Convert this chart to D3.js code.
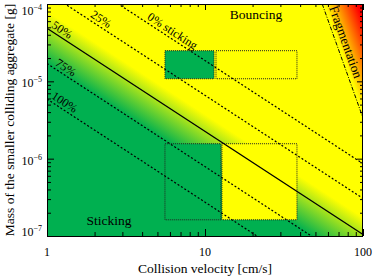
<!DOCTYPE html>
<html>
<head>
<meta charset="utf-8">
<script src="https://cdn.jsdelivr.net/npm/d3@7"></script>
<style>
  body { margin: 0; background: #fff; }
  text { font-family: "Liberation Serif", "Times New Roman", serif; fill: #000; }
</style>
</head>
<body>
<svg></svg>
<script>
var width = 374, height = 279;
var margin = {left: 47, right: 11, top: 4, bottom: 43};

// axes
var velocityDomain = [1, 100];
var massDomain = [1e-7, 1e-4];
var xMajor = [1, 10, 100];
var yMajor = [1e-7, 1e-6, 1e-5, 1e-4];
var yExponents = ["\u22127", "\u22126", "\u22125", "\u22124"];

// sticking probability lines, m = m1 * v^slope (m1 = mass at v = 1 cm/s)
var slope = -4 / 3;
var probLabels = ["0% sticking", "25%", "50%", "75%", "100%"];
var probValues = [0, 0.25, 0.5, 0.75, 1];
var probMass1 = [4.0e-4, 1.42e-4, 4.85e-5, 1.70e-5, 5.9e-6];
var probLabelV = [4.17, 1.82, 1.03, 1.09, 1.03];

// background colour: fully green above pGreen, fully yellow below pYellow
var pGreen = 0.75, pYellow = 0.38;

// fragmentation threshold
var fragV = [55.2, 100];
var fragM = [1e-4, 3.36e-6];

// experiment boxes
var boxVmin = [5.58, 11.74, 5.58, 12.8];
var boxVmax = [11.4, 38.2, 12.6, 38.2];
var boxMmin = [1.08e-5, 1.08e-5, 1.62e-7, 1.62e-7];
var boxMmax = [2.49e-5, 2.49e-5, 1.56e-6, 1.56e-6];
var boxOutcome = ["stick", "bounce", "stick", "bounce"];

var green = "#00b050", yellow = "#ffff00", orange = "#ff8000", red = "#ff0000";

var svg = d3.select("svg").attr("width", width).attr("height", height);

var x = d3.scaleLog().domain(velocityDomain).range([margin.left, width - margin.right]);
var y = d3.scaleLog().domain(massDomain).range([height - margin.bottom, margin.top]);
var x0 = x.range()[0], x1 = x.range()[1], y0 = y.range()[1], y1 = y.range()[0];

var defs = svg.append("defs");
defs.append("clipPath").attr("id", "plot").append("rect")
    .attr("x", x0).attr("y", y0).attr("width", x1 - x0).attr("height", y1 - y0);

var line = d3.line().x(d => x(d.v)).y(d => y(d.m));
function probLine(m1) {
    return velocityDomain.map(v => ({v: v, m: m1 * Math.pow(v, slope)}));
}

// direction of the probability lines on screen
var a = [x(1), y(probMass1[4])];
var b = [x(10), y(probMass1[4] * Math.pow(10, slope))];
var len = Math.hypot(b[0] - a[0], b[1] - a[1]);
var dx = (b[0] - a[0]) / len, dy = (b[1] - a[1]) / len;
var nx = dy, ny = -dx;   // normal, pointing up-right
var angle = Math.atan2(dy, dx) * 180 / Math.PI;
var gap = (y(probMass1[4]) - y(probMass1[0])) * dx;   // 100% -> 0% distance

var stickGrad = defs.append("linearGradient").attr("id", "stickGrad")
    .attr("gradientUnits", "userSpaceOnUse")
    .attr("x1", a[0]).attr("y1", a[1])
    .attr("x2", a[0] + nx * gap).attr("y2", a[1] + ny * gap);
stickGrad.append("stop").attr("offset", 1 - pGreen).attr("stop-color", green);
stickGrad.append("stop").attr("offset", 1 - pYellow).attr("stop-color", yellow);

// fragmentation gradient, perpendicular to the threshold line
var f0 = [x(fragV[0]), y(fragM[0])], f1 = [x(fragV[1]), y(fragM[1])];
var flen = Math.hypot(f1[0] - f0[0], f1[1] - f0[1]);
var fdx = (f1[0] - f0[0]) / flen, fdy = (f1[1] - f0[1]) / flen;
var fnx = fdy, fny = -fdx;
var fdist = (x1 - f0[0]) * fnx + (y0 - f0[1]) * fny;
var fragGrad = defs.append("linearGradient").attr("id", "fragGrad")
    .attr("gradientUnits", "userSpaceOnUse")
    .attr("x1", f0[0]).attr("y1", f0[1])
    .attr("x2", f0[0] + fnx * fdist).attr("y2", f0[1] + fny * fdist);
fragGrad.append("stop").attr("offset", 0.05).attr("stop-color", yellow);
fragGrad.append("stop").attr("offset", 0.45).attr("stop-color", orange);
fragGrad.append("stop").attr("offset", 0.85).attr("stop-color", red);

var plot = svg.append("g").attr("clip-path", "url(#plot)");

// background
plot.append("rect")
    .attr("x", x0).attr("y", y0).attr("width", x1 - x0).attr("height", y1 - y0)
    .attr("fill", "url(#stickGrad)");

plot.append("path")
    .attr("d", "M" + f0 + "L" + [x1, y0] + "L" + f1 + "Z")
    .attr("fill", "url(#fragGrad)");

// experiment boxes
plot.selectAll("rect.box")
    .data(boxOutcome)
    .enter().append("rect")
    .attr("class", "box")
    .attr("x", (d, i) => x(boxVmin[i]))
    .attr("y", (d, i) => y(boxMmax[i]))
    .attr("width", (d, i) => x(boxVmax[i]) - x(boxVmin[i]))
    .attr("height", (d, i) => y(boxMmin[i]) - y(boxMmax[i]))
    .attr("fill", d => d == "stick" ? green : yellow)
    .attr("stroke", "#222")
    .attr("stroke-width", 1)
    .attr("stroke-dasharray", "1,1");

// probability lines
plot.selectAll("path.prob")
    .data(probMass1)
    .enter().append("path")
    .attr("class", "prob")
    .attr("d", d => line(probLine(d)))
    .attr("fill", "none")
    .attr("stroke", "#000")
    .attr("stroke-width", 1.2)
    .attr("stroke-dasharray", (d, i) => probValues[i] == 0.5 ? null : "2,2");

// fragmentation line
plot.append("path")
    .attr("d", line(fragV.map((v, i) => ({v: v, m: fragM[i]}))))
    .attr("fill", "none")
    .attr("stroke", "#000")
    .attr("stroke-width", 1)
    .attr("stroke-dasharray", "4,1.5,1,1.5");

// labels along the lines
probLabels.forEach(function(t, i) {
    var v = probLabelV[i], m = probMass1[i] * Math.pow(v, slope);
    var px = x(v) + nx * 3, py = y(m) + ny * 3;
    svg.append("text")
        .attr("transform", "translate(" + px + "," + py + ") rotate(" + angle + ")")
        .style("font-size", "12px")
        .text(t);
});

var fangle = Math.atan2(fdy, fdx) * 180 / Math.PI;
var fLabelM = 8.5e-5;
var fLabelV = fragV[0] * Math.pow(fLabelM / fragM[0], Math.log(fragV[1] / fragV[0]) / Math.log(fragM[1] / fragM[0]));
svg.append("text")
    .attr("transform", "translate(" + (x(fLabelV) + fnx * 5) + "," + (y(fLabelM) + fny * 5) + ") rotate(" + fangle + ")")
    .style("font-size", "13px")
    .text("Fragmentation");

svg.append("text").attr("x", x(21)).attr("y", y(6.4e-5))
    .attr("text-anchor", "middle").style("font-size", "13.5px").text("Bouncing");
svg.append("text").attr("x", x(2.47)).attr("y", y(1.39e-7))
    .attr("text-anchor", "middle").style("font-size", "13.5px").text("Sticking");

// ticks on all four sides, pointing inward
var minorX = x.ticks().filter(v => xMajor.indexOf(v) < 0);
var minorY = y.ticks().filter(v => yMajor.indexOf(v) < 0);

function ticks(axis, vals, size, tr) {
    svg.append("g")
        .attr("transform", tr)
        .call(axis.tickValues(vals).tickSize(-size).tickFormat(""))
        .call(g => g.select(".domain").remove());
}
ticks(d3.axisBottom(x), xMajor, 7, "translate(0," + y1 + ")");
ticks(d3.axisBottom(x), minorX, 4, "translate(0," + y1 + ")");
ticks(d3.axisTop(x), xMajor, 6, "translate(0," + y0 + ")");
ticks(d3.axisTop(x), minorX, 3, "translate(0," + y0 + ")");
ticks(d3.axisLeft(y), yMajor, 7, "translate(" + x0 + ",0)");
ticks(d3.axisLeft(y), minorY, 4, "translate(" + x0 + ",0)");
ticks(d3.axisRight(y), yMajor, 6, "translate(" + x1 + ",0)");
ticks(d3.axisRight(y), minorY, 3, "translate(" + x1 + ",0)");

// frame
svg.append("rect")
    .attr("x", x0 + 0.5).attr("y", y0 + 0.5)
    .attr("width", x1 - x0 - 1).attr("height", y1 - y0)
    .attr("fill", "none").attr("stroke", "#000").attr("stroke-width", 1);

// tick labels
svg.selectAll("text.xl")
    .data(xMajor)
    .enter().append("text")
    .attr("class", "xl")
    .attr("x", d => x(d))
    .attr("y", y1 + 20)
    .attr("text-anchor", "middle")
    .style("font-size", "12px")
    .text(d => d);

var yl = svg.selectAll("text.yl")
    .data(yMajor)
    .enter().append("text")
    .attr("class", "yl")
    .attr("x", x0 - 5)
    .attr("y", d => Math.max(15, Math.min(y(d) + 6, y1 - 0.5)))
    .attr("text-anchor", "end")
    .style("font-size", "12px");
yl.append("tspan").text("10");
yl.append("tspan")
    .attr("dy", -5)
    .style("font-size", "8px")
    .text((d, i) => yExponents[i]);

// axis titles
svg.append("text")
    .attr("x", (x0 + x1) / 2)
    .attr("y", height - 6)
    .attr("text-anchor", "middle")
    .style("font-size", "13.5px")
    .text("Collision velocity [cm/s]");

svg.append("text")
    .attr("transform", "translate(14," + (y0 + y1) / 2 + ") rotate(-90)")
    .attr("text-anchor", "middle")
    .style("font-size", "13.5px")
    .text("Mass of the smaller colliding aggregate [g]");
</script>
</body>
</html>
